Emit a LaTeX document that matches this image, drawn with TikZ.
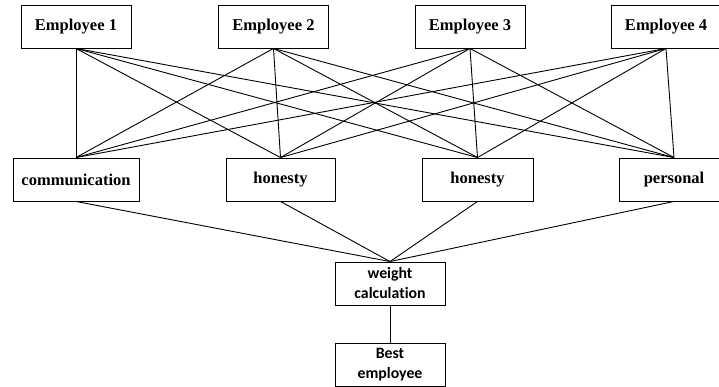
\documentclass[tikz,border=0pt]{standalone}
\usepackage{fontspec}
\setmainfont{Liberation Serif}
\newfontfamily\calib[Ligatures=NoCommon]{Carlito}
\begin{document}
\begin{tikzpicture}[x=1pt,y=-1pt,
  box/.style={draw,line width=0.9pt,minimum height=43pt,minimum width=110pt,inner sep=0pt,
    font=\fontsize{16.5}{19}\selectfont\bfseries},
  cbox/.style={draw,line width=0.9pt,minimum height=43pt,minimum width=110pt,inner sep=0pt,
    align=center,font=\fontsize{15.8}{20}\selectfont\calib\bfseries},
  link/.style={line width=0.9pt}]
\useasboundingbox (0,0) rectangle (719,387);
\node[box] (e1) at (76,26.5) {Employee 1};
\node[box] (e2) at (273.5,26.5) {Employee 2};
\node[box] (e3) at (470,26.5) {Employee 3};
\node[box] (e4) at (666,26.5) {Employee 4};
\node[box,minimum width=126pt] (c1) at (76,179.5) {communication};
\node[box,minimum width=109pt] (c2) at (280.5,179.5) {honesty};
\node[box,minimum width=111pt] (c3) at (477.5,179.5) {honesty};
\node[box] (c4) at (674,179.5) {personal};
\node[cbox] (w) at (390,283.5) {weight\\calculation};
\node[cbox] (b) at (390,364.5) {Best\\employee};
\foreach \e in {e1,e2,e3,e4}{
  \foreach \c in {c1,c2,c3,c4}{
    \draw[link] (\e.south) -- (\c.north);
  }
}
\foreach \c in {c1,c2,c3,c4}{
  \draw[link] (\c.south) -- (w.north);
}
\draw[link] (w.south) -- (b.north);
\end{tikzpicture}
\end{document}
